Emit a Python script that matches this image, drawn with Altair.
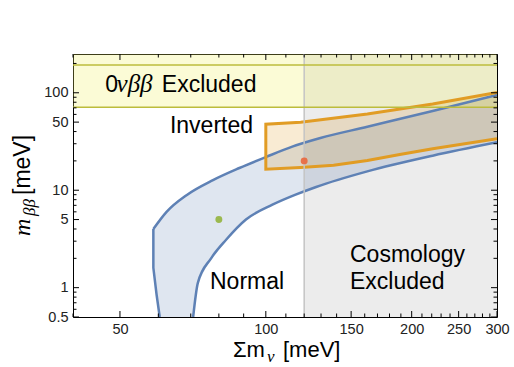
import altair as alt
import pandas as pd

# ---------------- data ----------------
# Normal ordering band (left foot, upper edge, lower edge)
normal_left_x = [60.4, 59.5, 58.6, 58.6]
normal_left_y = [0.5, 0.85, 1.6, 4.0]
normal_upper_x = [58.6, 62.4, 68.6, 77.8, 88.2, 100, 113.4, 129.6, 162, 221, 300]
normal_upper_y = [4.0, 6.0, 8.9, 12.7, 16.9, 21.9, 28.0, 34.3, 44.8, 65.0, 95.0]
normal_lower_x = [70.8, 72.4, 77.1, 82.8, 91.0, 103.2, 115.2, 127, 162, 221, 300]
normal_lower_y = [0.5, 1.12, 2.0, 3.1, 5.0, 7.1, 9.0, 10.8, 15.6, 22.6, 31.0]

# Inverted ordering band
inverted_upper_x = [100, 118, 162, 221, 300]
inverted_upper_y = [47.5, 49.8, 60.7, 76.7, 101]
inverted_lower_x = [100, 118, 138, 162, 189, 221, 300]
inverted_lower_y = [16.4, 17.1, 18.0, 20.2, 23.3, 26.6, 33.7]

# Exclusion limits
znbb_lower = 71
znbb_upper = 193
cosmo_limit = 120

# Marked points
point_x = [80, 120]
point_y = [5, 20]
point_color = ["#8FB032", "#EB6235"]

# Axis ticks
x_major = [50, 100, 150, 200, 250, 300]
x_minor = [40, 60, 70, 80, 90, 110, 120, 130, 140, 160, 170, 180, 190,
           210, 220, 230, 240, 260, 270, 280, 290]
y_major = [0.5, 1, 5, 10, 50, 100]
y_minor = [0.6, 0.7, 0.8, 0.9, 2, 3, 4, 6, 7, 8, 9, 20, 30, 40,
           60, 70, 80, 90, 200]

# In-plot labels
label_text = ["Inverted", "Normal", "Cosmology", "Excluded"]
label_x = [63.4, 76.7, 149.2, 149.2]
label_y = [38.4, 0.962, 1.846, 0.969]

# ---------------- chart ----------------
W, H = 424, 263
xscale = alt.Scale(type="log", domain=[40, 300], nice=False)
yscale = alt.Scale(type="log", domain=[0.5, 250], nice=False)
BLUE = "#5E81B5"
ORANGE = "#E19C24"

axis_common = dict(ticks=False, domain=False, grid=False, labelFontSize=14.5,
                   labelFont="Liberation Sans", labelColor="#222",
                   labelPadding=5, title=None, format="~g")
AX = alt.Axis(values=x_major, labelFlush=False, **axis_common)
AY = alt.Axis(values=y_major, **axis_common)


def PX(f="x"):
    return alt.X(f"{f}:Q", scale=xscale, axis=AX)


def PY(f="y"):
    return alt.Y(f"{f}:Q", scale=yscale, axis=AY)


def path_df(xs, ys):
    return pd.DataFrame({"x": xs, "y": ys, "o": list(range(len(xs)))})


def XY():
    return dict(x=PX(), y=PY(), order="o:Q")


normal_poly = path_df(normal_left_x + normal_upper_x[1:] + normal_lower_x[::-1],
                      normal_left_y + normal_upper_y[1:] + normal_lower_y[::-1])
inv_path = path_df(inverted_upper_x[::-1] + inverted_lower_x,
                   inverted_upper_y[::-1] + inverted_lower_y)

normal_fill = alt.Chart(normal_poly).mark_line(
    fill=BLUE, fillOpacity=0.2, strokeOpacity=0, clip=True, interpolate="linear"
).encode(**XY())

inv_fill = alt.Chart(inv_path).mark_line(
    fill=ORANGE, fillOpacity=0.2, strokeOpacity=0, clip=True
).encode(**XY())

cosmo_rect = alt.Chart(pd.DataFrame({"x": [cosmo_limit], "x2": [300]})).mark_rect(
    color="#000", opacity=0.075, clip=True
).encode(x=PX(), x2="x2:Q", y=alt.value(0), y2=alt.value(H))

znbb_rect = alt.Chart(pd.DataFrame({"y": [znbb_lower], "y2": [250]})).mark_rect(
    color="#f0f060", opacity=0.26, clip=True
).encode(y=PY(), y2="y2:Q", x=alt.value(0), x2=alt.value(W))

normal_foot = alt.Chart(path_df(normal_left_x, normal_left_y)).mark_line(
    color=BLUE, strokeWidth=2.5, clip=True, interpolate="linear").encode(**XY())
normal_up = alt.Chart(path_df(normal_upper_x, normal_upper_y)).mark_line(
    color=BLUE, strokeWidth=2.5, clip=True, interpolate="monotone").encode(**XY())
normal_low = alt.Chart(path_df(normal_lower_x, normal_lower_y)).mark_line(
    color=BLUE, strokeWidth=2.5, clip=True, interpolate="monotone").encode(**XY())
inv_line = alt.Chart(inv_path).mark_line(
    color=ORANGE, strokeWidth=3, clip=True, interpolate="linear").encode(**XY())

cosmo_rule = alt.Chart(pd.DataFrame({"x": [cosmo_limit]})).mark_rule(
    color="#c4c4c4", strokeWidth=1.5
).encode(x=PX(), y=alt.value(0), y2=alt.value(H))

znbb_rules = alt.Chart(pd.DataFrame({"y": [znbb_lower, znbb_upper]})).mark_rule(
    color="#bcbc3c", strokeWidth=1.5
).encode(y=PY(), x=alt.value(0), x2=alt.value(W))

points = alt.Chart(pd.DataFrame({"x": point_x, "y": point_y, "c": point_color})).mark_circle(
    size=48, opacity=0.85
).encode(x=PX(), y=PY(), color=alt.Color("c:N", scale=None))


def ticks(vals, side, length):
    df = pd.DataFrame({"v": vals})
    base = alt.Chart(df).mark_rule(color="#000", strokeWidth=1)
    if side == "bottom":
        return base.encode(x=PX("v"), y=alt.value(H), y2=alt.value(H - length))
    if side == "top":
        return base.encode(x=PX("v"), y=alt.value(0), y2=alt.value(length))
    if side == "left":
        return base.encode(y=PY("v"), x=alt.value(0), x2=alt.value(length))
    return base.encode(y=PY("v"), x=alt.value(W), x2=alt.value(W - length))


tick_layers = []
for side in ["bottom", "top"]:
    tick_layers.append(ticks(x_major, side, 6))
    tick_layers.append(ticks(x_minor, side, 3.5))
for side in ["left", "right"]:
    tick_layers.append(ticks(y_major, side, 6))
    tick_layers.append(ticks(y_minor, side, 3.5))

labels = alt.Chart(pd.DataFrame({"t": label_text, "x": label_x, "y": label_y})).mark_text(
    align="left", baseline="alphabetic", font="Liberation Sans", fontSize=23, color="#000"
).encode(x=PX(), y=PY(), text="t:N")


def data_text(t, x, y, **kw):
    return alt.Chart(pd.DataFrame({"t": [t], "x": [x], "y": [y]})).mark_text(
        align="left", baseline="alphabetic", color="#000", **kw
    ).encode(x=PX(), y=PY(), text="t:N")


znbb_t1 = data_text("0", 46.6, 102.5, font="Liberation Sans", fontSize=23)
znbb_t2 = data_text("νββ", 49.2, 102.5, font="Liberation Serif", fontStyle="italic", fontSize=25)
znbb_t3 = data_text("Excluded", 61.0, 102.5, font="Liberation Sans", fontSize=23)


def px_text(t, x, y, angle=0, **kw):
    extra = {"angle": angle} if angle else {}
    return alt.Chart(pd.DataFrame({"t": [t]})).mark_text(
        align="left", baseline="alphabetic", color="#000", **extra, **kw
    ).encode(x=alt.value(x), y=alt.value(y), text="t:N")


ytitle = [
    px_text("m", -43, 182, angle=270, font="Liberation Serif", fontStyle="italic", fontSize=24),
    px_text("ββ", -38, 162, angle=270, font="Liberation Serif", fontStyle="italic", fontSize=17),
    px_text("[meV]", -43, 141, angle=270, font="Liberation Sans", fontSize=23),
]
xtitle = [
    px_text("Σm", 160, 303, font="Liberation Sans", fontSize=22),
    px_text("ν", 194, 308, font="Liberation Serif", fontStyle="italic", fontSize=17),
    px_text("[meV]", 210, 303, font="Liberation Sans", fontSize=22),
]

chart = alt.layer(
    normal_fill, inv_fill, cosmo_rect, znbb_rect,
    normal_foot, normal_up, normal_low, inv_line,
    cosmo_rule, znbb_rules, points,
    *tick_layers,
    labels, znbb_t1, znbb_t2, znbb_t3,
    *ytitle, *xtitle,
).properties(
    width=W, height=H,
    padding={"left": 73, "top": 54, "right": 17, "bottom": 50},
    autosize=alt.AutoSizeParams(type="none"),
).configure_view(stroke="#000", strokeWidth=1)

chart.save("out.html", embed_options={"renderer": "svg", "actions": False})
